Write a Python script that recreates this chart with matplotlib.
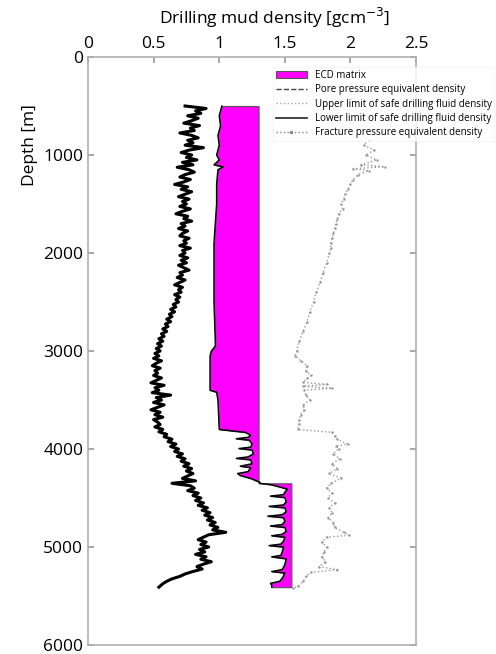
import numpy as np
import matplotlib.pyplot as plt
from matplotlib.lines import Line2D
from matplotlib.patches import Patch

plt.rcParams['font.family'] = ['Open Sans', 'DejaVu Sans']

# pore pressure equivalent density (thick black curve), 25 m samples
depth = [500, 525, 550, 575, 600, 625, 650, 675, 700, 725,
         750, 775, 800, 825, 850, 875, 900, 925, 950, 975,
         1000, 1025, 1050, 1075, 1100, 1125, 1150, 1175, 1200, 1225,
         1250, 1275, 1300, 1325, 1350, 1375, 1400, 1425, 1450, 1475,
         1500, 1525, 1550, 1575, 1600, 1625, 1650, 1675, 1700, 1725,
         1750, 1775, 1800, 1825, 1850, 1875, 1900, 1925, 1950, 1975,
         2000, 2025, 2050, 2075, 2100, 2125, 2150, 2175, 2200, 2225,
         2250, 2275, 2300, 2325, 2350, 2375, 2400, 2425, 2450, 2475,
         2500, 2525, 2550, 2575, 2600, 2625, 2650, 2675, 2700, 2725,
         2750, 2775, 2800, 2825, 2850, 2875, 2900, 2925, 2950, 2975,
         3000, 3025, 3050, 3075, 3100, 3125, 3150, 3175, 3200, 3225,
         3250, 3275, 3300, 3325, 3350, 3375, 3400, 3425, 3450, 3475,
         3500, 3525, 3550, 3575, 3600, 3625, 3650, 3675, 3700, 3725,
         3750, 3775, 3800, 3825, 3850, 3875, 3900, 3925, 3950, 3975,
         4000, 4025, 4050, 4075, 4100, 4125, 4150, 4175, 4200, 4225,
         4250, 4275, 4300, 4325, 4350, 4375, 4400, 4425, 4450, 4475,
         4500, 4525, 4550, 4575, 4600, 4625, 4650, 4675, 4700, 4725,
         4750, 4775, 4800, 4825, 4850, 4875, 4900, 4925, 4950, 4975,
         5000, 5025, 5050, 5075, 5100, 5125, 5150, 5175, 5200, 5225,
         5250, 5275, 5300, 5325, 5350, 5375, 5410]
pore = [0.74, 0.90, 0.82, 0.86, 0.76, 0.84, 0.79, 0.73, 0.85, 0.78,
        0.81, 0.70, 0.79, 0.84, 0.76, 0.80, 0.74, 0.88, 0.77, 0.71,
        0.79, 0.75, 0.83, 0.72, 0.80, 0.68, 0.77, 0.81, 0.74, 0.70,
        0.78, 0.73, 0.66, 0.76, 0.71, 0.79, 0.74, 0.69, 0.77, 0.72,
        0.75, 0.70, 0.78, 0.72, 0.67, 0.76, 0.73, 0.79, 0.71, 0.74,
        0.69, 0.76, 0.72, 0.70, 0.77, 0.73, 0.75, 0.70, 0.78, 0.72,
        0.74, 0.70, 0.76, 0.71, 0.75, 0.69, 0.73, 0.77, 0.70, 0.72,
        0.68, 0.74, 0.70, 0.66, 0.72, 0.69, 0.71, 0.66, 0.70, 0.67,
        0.69, 0.65, 0.67, 0.63, 0.66, 0.62, 0.64, 0.60, 0.63, 0.59,
        0.61, 0.57, 0.60, 0.56, 0.58, 0.54, 0.57, 0.53, 0.56, 0.52,
        0.55, 0.51, 0.54, 0.50, 0.56, 0.52, 0.49, 0.55, 0.51, 0.53,
        0.50, 0.56, 0.52, 0.48, 0.58, 0.51, 0.54, 0.49, 0.63, 0.52,
        0.56, 0.50, 0.58, 0.53, 0.48, 0.55, 0.51, 0.57, 0.50, 0.53,
        0.55, 0.51, 0.57, 0.54, 0.60, 0.58, 0.64, 0.61, 0.67, 0.63,
        0.69, 0.66, 0.72, 0.68, 0.74, 0.71, 0.77, 0.73, 0.79, 0.75,
        0.80, 0.76, 0.72, 0.82, 0.64, 0.78, 0.81, 0.76, 0.84, 0.80,
        0.86, 0.82, 0.88, 0.84, 0.91, 0.87, 0.93, 0.89, 0.95, 0.91,
        0.97, 0.93, 0.99, 0.95, 1.05, 0.92, 0.88, 0.84, 0.90, 0.86,
        0.92, 0.85, 0.89, 0.82, 0.90, 0.86, 0.94, 0.88, 0.83, 0.87,
        0.80, 0.74, 0.70, 0.64, 0.60, 0.57, 0.54]

# lower limit of safe drilling fluid density (left edge of ECD)
lower_depth = [500, 600, 700, 800, 900, 1000, 1050, 1100, 1120, 1150,
               1300, 1500, 1700, 1900, 2000, 2500, 2900, 2950, 3000, 3050,
               3400, 3420, 3500, 3800, 3815, 3830, 3860, 3880, 3895, 3910,
               3950, 3980, 3995, 4010, 4050, 4080, 4095, 4110, 4150, 4175,
               4190, 4230, 4250, 4270, 4300, 4340, 4350, 4365, 4390, 4410,
               4440, 4465, 4480, 4495, 4540, 4570, 4585, 4600, 4640, 4670,
               4685, 4700, 4740, 4770, 4785, 4800, 4840, 4870, 4885, 4900,
               4940, 4970, 4985, 5000, 5050, 5085, 5100, 5120, 5180, 5230,
               5250, 5265, 5320, 5350, 5370, 5390, 5410]
lower = [1.02, 1.00, 1.01, 0.99, 1.00, 0.98, 1.00, 0.96, 1.03, 0.99,
         0.98, 0.98, 0.97, 0.96, 0.96, 0.96, 0.97, 0.97, 0.94, 0.93,
         0.93, 0.98, 0.99, 1.00, 1.10, 1.20, 1.24, 1.22, 1.13, 1.23,
         1.25, 1.24, 1.15, 1.25, 1.26, 1.22, 1.13, 1.24, 1.25, 1.16,
         1.24, 1.22, 1.14, 1.16, 1.24, 1.31, 1.31, 1.40, 1.47, 1.52,
         1.50, 1.49, 1.39, 1.50, 1.51, 1.49, 1.38, 1.50, 1.51, 1.48,
         1.37, 1.49, 1.50, 1.48, 1.39, 1.50, 1.51, 1.48, 1.40, 1.50,
         1.49, 1.47, 1.38, 1.49, 1.48, 1.47, 1.40, 1.51, 1.50, 1.48,
         1.40, 1.50, 1.48, 1.46, 1.39, 1.40, 1.40]

# ECD matrix levels
ecd_upper = 1.30
ecd_lower = 1.55
ecd_break = 4350

# fracture pressure equivalent density
frac_depth = [850, 900, 950, 1000, 1050, 1100, 1120, 1140, 1160, 1200,
              1250, 1300, 1350, 1400, 1450, 1500, 1550, 1600, 1650, 1700,
              1750, 1800, 1850, 1900, 1950, 2000, 2100, 2200, 2300, 2400,
              2500, 2600, 2700, 2800, 2900, 3000, 3050, 3100, 3150, 3200,
              3250, 3280, 3320, 3340, 3360, 3380, 3400, 3450, 3500, 3550,
              3600, 3650, 3700, 3750, 3800, 3830, 3870, 3900, 3950, 3970,
              4000, 4050, 4100, 4150, 4200, 4250, 4300, 4350, 4400, 4450,
              4500, 4550, 4600, 4650, 4700, 4750, 4800, 4850, 4880, 4900,
              4950, 5000, 5050, 5100, 5150, 5200, 5230, 5260, 5300, 5350,
              5400, 5420]
frac = [2.14, 2.10, 2.18, 2.12, 2.20, 2.08, 2.26, 2.02, 2.14, 2.06,
        2.02, 2.00, 1.98, 1.96, 1.95, 1.93, 1.94, 1.91, 1.90, 1.89,
        1.88, 1.87, 1.86, 1.85, 1.85, 1.84, 1.82, 1.79, 1.77, 1.74,
        1.72, 1.69, 1.67, 1.64, 1.61, 1.59, 1.58, 1.62, 1.67, 1.66,
        1.70, 1.67, 1.64, 1.82, 1.64, 1.86, 1.65, 1.66, 1.69, 1.64,
        1.65, 1.62, 1.61, 1.61, 1.60, 1.86, 1.88, 1.90, 1.98, 1.89,
        1.91, 1.87, 1.92, 1.86, 1.90, 1.84, 1.93, 1.85, 1.82, 1.86,
        1.83, 1.88, 1.84, 1.86, 1.83, 1.87, 1.88, 1.95, 1.99, 1.82,
        1.78, 1.82, 1.80, 1.78, 1.81, 1.76, 1.90, 1.70, 1.66, 1.64,
        1.60, 1.56]

ld = np.array(lower_depth)
lo = np.array(lower)

fig = plt.figure(figsize=(4.96, 6.54), dpi=100)
ax = fig.add_axes([88/496, 9/654, 328/496, 588/654])

# ECD matrix
up = ld <= ecd_break
ax.fill_betweenx(ld[up], lo[up], ecd_upper, color='#ff00ff', edgecolor='#555555', lw=0.8)
dn = ld >= ecd_break
ax.fill_betweenx(ld[dn], lo[dn], ecd_lower, color='#ff00ff', edgecolor='#555555', lw=0.8)
ax.plot(lo, ld, color='black', lw=1.0)

ax.plot(pore, depth, color='black', lw=2.2)
ax.plot(frac, frac_depth, color='#9a9a9a', ls=':', lw=1.0, marker='.', ms=1.5)

ax.set_xlim(0, 2.5)
ax.set_ylim(6000, 0)
ax.xaxis.tick_top()
ax.set_xticks([0, 0.5, 1, 1.5, 2, 2.5])
ax.set_xticklabels(['0', '0.5', '1', '1.5', '2', '2.5'])
ax.set_yticks([0, 1000, 2000, 3000, 4000, 5000, 6000])
ax.tick_params(direction='in', length=4, width=1.2, color='#999999', labelsize=12.5,
               top=True, bottom=False, left=True, right=True)
for s in ax.spines.values():
    s.set_color('#b0b0b0')
    s.set_linewidth(1.2)

fig.text(275/496, 1 - 18/654, 'Drilling mud density [gcm$^{-3}$]', ha='center', va='center', fontsize=12.5)
fig.text(30/496, 1 - 145/654, 'Depth [m]', ha='center', va='center', rotation=90, fontsize=12.5)

handles = [Patch(facecolor='#ff00ff', edgecolor='#555555', lw=0.8),
           Line2D([], [], color='#444444', ls='--', lw=1),
           Line2D([], [], color='#aaaaaa', ls=':', lw=1),
           Line2D([], [], color='#222222', ls='-', lw=1.2),
           Line2D([], [], color='#888888', ls=':', lw=1, marker='.', ms=3)]
labels = ['ECD matrix', 'Pore pressure equivalent density',
          'Upper limit of safe drilling fluid density',
          'Lower limit of safe drilling fluid density',
          'Fracture pressure equivalent density']
leg = fig.legend(handles, labels, loc='upper left', bbox_to_anchor=(268/496, 1 - 62/654),
                 fontsize=7, frameon=True, handlelength=3.2, labelspacing=0.35,
                 borderpad=0.3, handletextpad=0.8, fancybox=False)
leg.get_frame().set_edgecolor('#eeeeee')
leg.get_frame().set_linewidth(0.5)

fig.savefig('out.png', dpi=100)
